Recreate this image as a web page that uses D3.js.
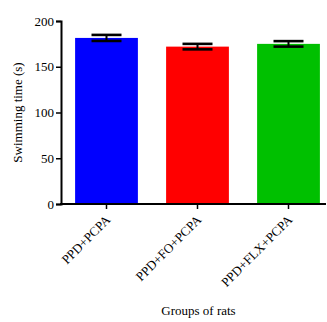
<!DOCTYPE html>
<html>
<head>
<meta charset="utf-8">
<script src="https://cdn.jsdelivr.net/npm/d3@7"></script>
<style>
  body { margin: 0; background: #fff; }
  text { font-family: "Liberation Serif", "Times New Roman", serif; }
</style>
</head>
<body>
<svg id="chart"></svg>
<script>
const groups = ['PPD+PCPA', 'PPD+FO+PCPA', 'PPD+FLX+PCPA'];
const means = [181.5, 172, 175];
const errors = [3.3, 3, 3];
const colors = ['#0000ff', '#ff0000', '#00c000'];
const yTicks = [0, 50, 100, 150, 200];

const W = 327, H = 322;
const margin = { left: 61, right: 1, top: 21, bottom: 118 };

const svg = d3.select('#chart').attr('width', W).attr('height', H);

// band range runs a little past the right edge so the bars keep their spacing
const x = d3.scaleBand()
  .domain(groups)
  .range([margin.left, 334])
  .paddingInner(0.31)
  .paddingOuter(0.155);

const y = d3.scaleLinear()
  .domain([0, 200])
  .range([H - margin.bottom, margin.top]);

// bars
svg.append('g')
  .selectAll('rect')
  .data(groups)
  .join('rect')
  .attr('x', (d) => x(d))
  .attr('y', (d, i) => y(means[i]))
  .attr('width', x.bandwidth())
  .attr('height', (d, i) => y(0) - y(means[i]))
  .attr('fill', (d, i) => colors[i]);

// error bars
const eb = svg.append('g').attr('stroke', '#000');
groups.forEach((g, i) => {
  const cx = x(g) + x.bandwidth() / 2;
  const capW = 15;
  eb.append('line')
    .attr('x1', cx).attr('x2', cx)
    .attr('y1', y(means[i] + errors[i])).attr('y2', y(means[i] - errors[i]))
    .attr('stroke-width', 2);
  [means[i] + errors[i], means[i] - errors[i]].forEach((v) => {
    eb.append('line')
      .attr('x1', cx - capW).attr('x2', cx + capW)
      .attr('y1', y(v)).attr('y2', y(v))
      .attr('stroke-width', 2.6);
  });
});

// y axis
const yAxis = svg.append('g')
  .attr('transform', `translate(${margin.left},0)`)
  .call(d3.axisLeft(y).tickValues(yTicks).tickSize(5).tickPadding(2));
yAxis.select('.domain').attr('stroke-width', 2);
yAxis.selectAll('.tick line').attr('stroke-width', 1.5);
yAxis.selectAll('.tick text').attr('font-size', 13).attr('fill', '#000')
  .style('font-family', '"Liberation Serif", serif');

// x axis
const xAxis = svg.append('g')
  .attr('transform', `translate(0,${y(0)})`)
  .call(d3.axisBottom(x).tickSizeOuter(0).tickSize(5));
xAxis.select('.domain').remove();
xAxis.append('line')
  .attr('x1', margin.left - 1).attr('x2', W - margin.right)
  .attr('stroke', '#000').attr('stroke-width', 2);
xAxis.selectAll('.tick line').attr('stroke-width', 1.5);
xAxis.selectAll('.tick text')
  .attr('font-size', 13)
  .attr('fill', '#000')
  .style('font-family', '"Liberation Serif", serif')
  .attr('text-anchor', 'end')
  .attr('dy', 0)
  .attr('transform', 'translate(-1,11) rotate(-45)');

// axis titles
svg.append('text')
  .attr('transform', `translate(22,${(y(0) + y(200)) / 2}) rotate(-90)`)
  .attr('text-anchor', 'middle')
  .attr('font-size', 13)
  .text('Swimming time (s)');

svg.append('text')
  .attr('x', 198.5)
  .attr('y', 315)
  .attr('text-anchor', 'middle')
  .attr('font-size', 13)
  .text('Groups of rats');
</script>
</body>
</html>
